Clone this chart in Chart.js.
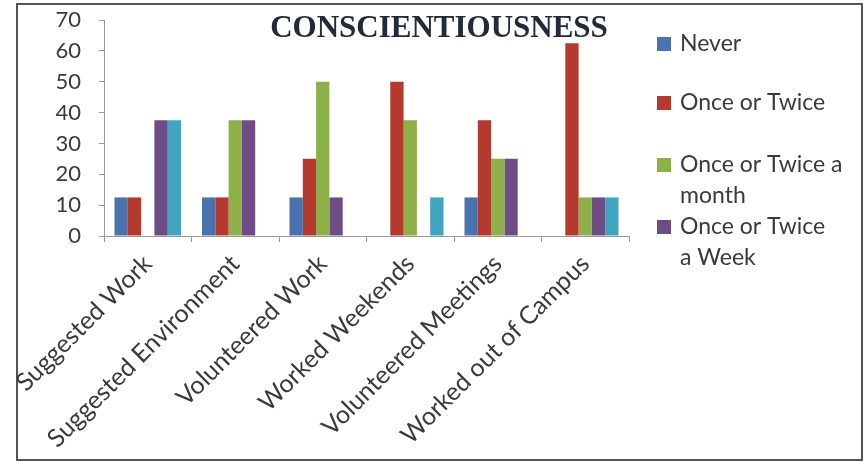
<!DOCTYPE html>
<html>
<head>
<meta charset="utf-8">
<script src="https://cdn.jsdelivr.net/npm/chart.js@4"></script>
<style>
  body { margin: 0; background: #fff; }
  #wrap { width: 864px; height: 462px; }
</style>
</head>
<body>
<div id="wrap"><canvas id="chart" width="864" height="462"></canvas></div>
<script>
const categories = ["Suggested Work", "Suggested Environment", "Volunteered Work",
  "Worked Weekends", "Volunteered Meetings", "Worked out of Campus"];
const seriesNames = ["Never", "Once or Twice", "Once or Twice a month", "Once or Twice a Week", "Daily"];
const never = [12.5, 12.5, 12.5, 0, 12.5, 0];
const onceOrTwice = [12.5, 12.5, 25, 50, 37.5, 62.5];
const monthly = [0, 37.5, 50, 37.5, 25, 12.5];
const weekly = [37.5, 37.5, 12.5, 0, 25, 12.5];
const daily = [37.5, 0, 0, 12.5, 0, 12.5];
const yTicks = [0, 10, 20, 30, 40, 50, 60, 70];

const colors = ["#4a72ad", "#b53a2e", "#8db049", "#6e4c85", "#42a5bf"];
const legendLines = [["Never"], ["Once or Twice"], ["Once or Twice a", "month"], ["Once or Twice", "a Week"]];
const sansFont = "Lato, 'Open Sans', sans-serif";

const values = [never, onceOrTwice, monthly, weekly, daily];

// frame, title and the wrapped legend are drawn by hand
const decor = {
  id: "decor",
  beforeDraw(chart) {
    const ctx = chart.ctx;
    ctx.save();
    ctx.fillStyle = "#fff";
    ctx.fillRect(0, 0, chart.width, chart.height);
    ctx.strokeStyle = "#555";
    ctx.lineWidth = 2;
    ctx.strokeRect(17, 4, 845, 456);
    ctx.restore();
  },
  afterDraw(chart) {
    const ctx = chart.ctx;
    ctx.save();
    ctx.fillStyle = "#222b3a";
    ctx.font = "bold 31px 'Liberation Serif', serif";
    ctx.textAlign = "center";
    ctx.textBaseline = "middle";
    ctx.fillText("CONSCIENTIOUSNESS", 439, 29);

    ctx.font = "23px " + sansFont;
    ctx.textAlign = "left";
    const starts = [44, 103, 165, 227];
    legendLines.forEach((lines, i) => {
      ctx.fillStyle = colors[i];
      ctx.fillRect(657, starts[i] - 7, 14, 14);
      ctx.fillStyle = "#3a3a3a";
      lines.forEach((t, j) => ctx.fillText(t, 680, starts[i] + j * 31));
    });
    ctx.restore();
  }
};

new Chart(document.getElementById("chart"), {
  type: "bar",
  data: {
    labels: categories,
    datasets: values.map((v, i) => ({
      label: seriesNames[i],
      data: v,
      backgroundColor: colors[i],
      categoryPercentage: 0.76,
      barPercentage: 1.0
    }))
  },
  options: {
    responsive: false,
    animation: false,
    layout: { padding: { left: 30, right: 235, top: 20, bottom: 0 } },
    plugins: { legend: { display: false }, title: { display: false }, tooltip: { enabled: false } },
    scales: {
      x: {
        offset: true,
        grid: { drawOnChartArea: false, drawTicks: true, tickLength: 6, color: "#999", offset: true },
        border: { color: "#999" },
        ticks: { color: "#3a3a3a", font: { family: sansFont, size: 25 }, maxRotation: 45, minRotation: 45, padding: 7 },
        afterFit: s => { s.paddingLeft = 0; s.paddingRight = 0; s.height = 226; }
      },
      y: {
        min: 0,
        max: 70,
        grid: { drawOnChartArea: false, drawTicks: true, tickLength: 5, color: "#999" },
        border: { color: "#999" },
        afterBuildTicks: axis => { axis.ticks = yTicks.map(v => ({ value: v })); },
        ticks: { color: "#3a3a3a", font: { family: sansFont, size: 22 }, padding: 18 },
        afterFit: s => { s.paddingTop = 0; s.paddingBottom = 0; s.width = 74; }
      }
    }
  },
  plugins: [decor]
});
</script>
</body>
</html>
